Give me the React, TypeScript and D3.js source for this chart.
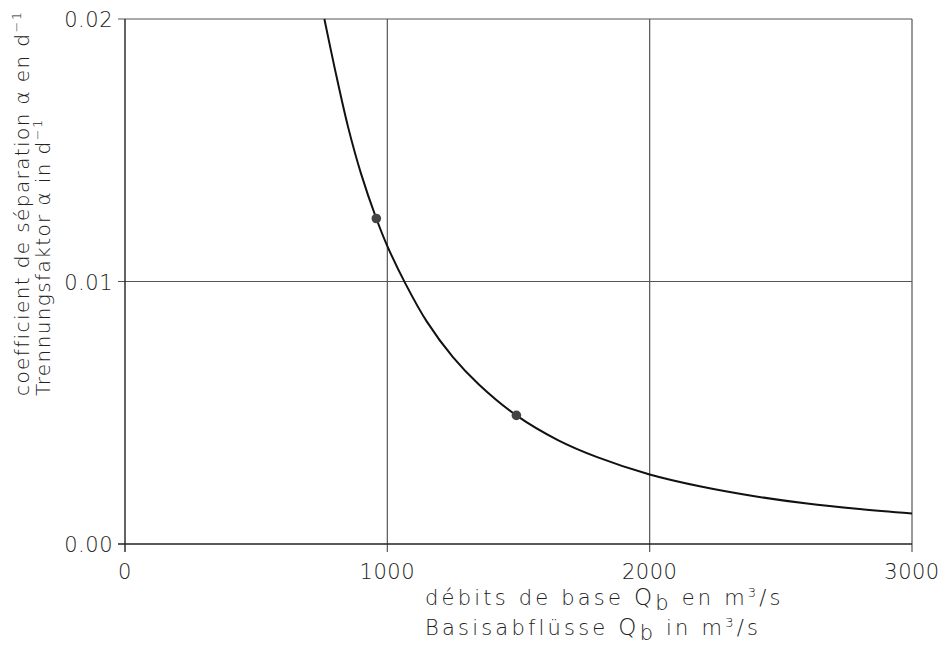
import * as d3 from "d3";
import { useEffect, useRef } from "react";

// values
const baseFlow = [760, 800, 850, 900, 958, 1000, 1070, 1150, 1250, 1350, 1492, 1650, 1800, 2000, 2200, 2400, 2600, 2800, 3000];
const separation = [0.02, 0.0181, 0.0159, 0.0141, 0.0124, 0.01135, 0.0099, 0.00848, 0.00712, 0.00607, 0.0049, 0.00396, 0.00331, 0.00265, 0.00218, 0.00182, 0.00154, 0.00133, 0.00116];

const markedFlow = [958, 1492];
const markedSeparation = [0.0124, 0.0049];

const xTicks = [0, 1000, 2000, 3000];
const yTicks = [0, 0.01, 0.02];
const yTickLabels = ["0.00", "0.01", "0.02"];

export default function App() {
  const ref = useRef<SVGSVGElement>(null);

  useEffect(() => {
    const width = 942,
      height = 645;
    const margin = { top: 19, right: 30, bottom: 101, left: 125 };
    const font = "'DejaVu Sans', sans-serif";

    const svg = d3.select(ref.current);
    svg.selectAll("*").remove();

    const x = d3.scaleLinear().domain([0, 3000]).range([margin.left, width - margin.right]);
    const y = d3.scaleLinear().domain([0, 0.02]).range([height - margin.bottom, margin.top]);

    const g = svg.append("g");

    // grid
    g.selectAll(".vgrid")
      .data(xTicks.slice(1))
      .join("line")
      .attr("x1", (d) => x(d))
      .attr("x2", (d) => x(d))
      .attr("y1", y(0.02))
      .attr("y2", y(0) + 8)
      .attr("stroke", "#555")
      .attr("stroke-width", 1.2);

    g.selectAll(".hgrid")
      .data(yTicks.slice(1))
      .join("line")
      .attr("x1", x(0) - 7)
      .attr("x2", x(3000))
      .attr("y1", (d) => y(d))
      .attr("y2", (d) => y(d))
      .attr("stroke", "#555")
      .attr("stroke-width", 1.2);

    // axes
    g.append("line")
      .attr("x1", x(0))
      .attr("x2", x(0))
      .attr("y1", y(0.02))
      .attr("y2", y(0) + 8)
      .attr("stroke", "#222")
      .attr("stroke-width", 1.4);
    g.append("line")
      .attr("x1", x(0) - 7)
      .attr("x2", x(3000))
      .attr("y1", y(0))
      .attr("y2", y(0))
      .attr("stroke", "#222")
      .attr("stroke-width", 1.4);

    // tick labels
    g.selectAll(".xlab")
      .data(xTicks)
      .join("text")
      .attr("x", (d) => x(d))
      .attr("y", y(0) + 35)
      .attr("text-anchor", "middle")
      .attr("font-family", font)
      .attr("font-weight", 200)
      .attr("font-size", 21)
      .attr("letter-spacing", 0.5)
      .attr("fill", "#222")
      .text((d) => String(d));

    g.selectAll(".ylab")
      .data(yTicks)
      .join("text")
      .attr("x", x(0) - 12)
      .attr("y", (d) => y(d) + 8)
      .attr("text-anchor", "end")
      .attr("font-family", font)
      .attr("font-weight", 200)
      .attr("font-size", 21)
      .attr("letter-spacing", 0.5)
      .attr("fill", "#222")
      .text((d, i) => yTickLabels[i]);

    // curve
    const pts = baseFlow.map((q, i) => [q, separation[i]] as [number, number]);
    const line = d3
      .line<[number, number]>()
      .x((d) => x(d[0]))
      .y((d) => y(d[1]))
      .curve(d3.curveCatmullRom.alpha(0.5));
    g.append("path")
      .attr("d", line(pts))
      .attr("fill", "none")
      .attr("stroke", "#111")
      .attr("stroke-width", 2);

    g.selectAll(".dot")
      .data(markedFlow)
      .join("circle")
      .attr("cx", (d) => x(d))
      .attr("cy", (d, i) => y(markedSeparation[i]))
      .attr("r", 4.8)
      .attr("fill", "#444");

    // x axis titles
    const titleLine = (yPos: number, before: string, after: string) => {
      const t = g
        .append("text")
        .attr("font-family", font)
        .attr("font-size", 21)
        .attr("font-weight", 200)
        .attr("letter-spacing", 3.2)
        .attr("fill", "#222");
      const s = t.append("tspan").attr("x", 425).attr("y", yPos);
      s.append("tspan").text(before);
      s.append("tspan").attr("font-size", 23).text("Q");
      s.append("tspan").attr("dy", 5).text("b");
      s.append("tspan").attr("dy", -5).text(after);
      s.append("tspan").attr("dy", -8).attr("font-size", 13).text("3");
      s.append("tspan").attr("dy", 8).text("/s");
    };
    titleLine(605, "débits de base ", " en m");
    titleLine(635, "Basisabflüsse  ", " in m");

    // y axis title
    const yt = g
      .append("text")
      .attr("transform", "translate(29,396) rotate(-90)")
      .attr("font-family", font)
      .attr("font-size", 20)
      .attr("font-weight", 200)
      .attr("letter-spacing", 1.4)
      .attr("fill", "#222");
    const a1 = yt.append("tspan").attr("x", 0).attr("y", 0);
    a1.append("tspan").text("coefficient de séparation α en d");
    a1.append("tspan").attr("dy", -8).attr("font-size", 13).text("−1");
    const a2 = yt.append("tspan").attr("x", 0).attr("y", 21);
    a2.append("tspan").text("Trennungsfaktor  α in d");
    a2.append("tspan").attr("dy", -8).attr("font-size", 13).text("−1");
  }, []);

  return (
    <>
      <style>{"body{margin:0}"}</style>
      <svg ref={ref} width={942} height={645} style={{ display: "block", background: "#fff" }} />
    </>
  );
}
